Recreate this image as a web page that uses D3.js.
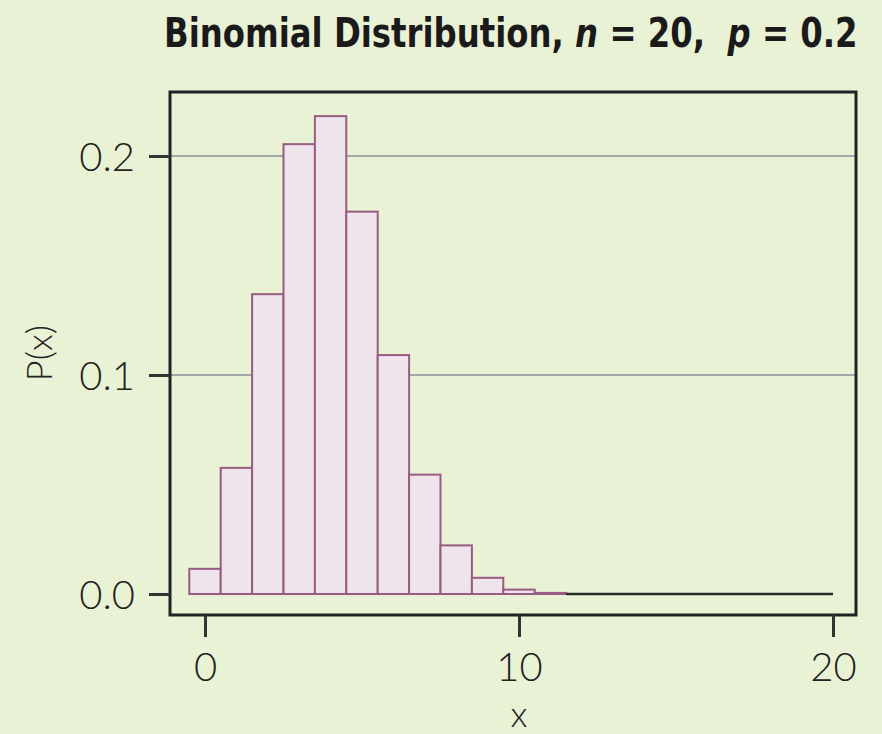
<!DOCTYPE html>
<html>
<head>
<meta charset="utf-8">
<script src="https://cdn.jsdelivr.net/npm/d3@7"></script>
<style>
  html, body { margin: 0; padding: 0; background: #eaf2d6; }
  svg { display: block; }
  text { white-space: pre; }
</style>
</head>
<body>
<div id="root"></div>
<script>
// binomial n = 20, p = 0.2
var ks = [0, 1, 2, 3, 4, 5, 6, 7, 8, 9, 10, 11]
var probs = [0.0115, 0.0576, 0.1369, 0.2054, 0.2182, 0.1746, 0.1091, 0.0545, 0.0222, 0.0074, 0.0020, 0.0005]
var xTicks = [0, 10, 20]
var yTicks = [0, 0.1, 0.2]
var gridTicks = [0.1, 0.2]
var xMax = 20

window.onload = function () {
    var W = 882, H = 734
    var frame = { left: 170, right: 856, top: 92, bottom: 615 }

    var svg = d3.select('#root').append('svg').attr('width', W).attr('height', H)

    var x = d3.scaleLinear().domain([0, 20]).range([205, 833])
    var y = d3.scaleLinear().domain([0, 0.2]).range([594, 156])

    // grid
    svg.append('g').selectAll('line').data(gridTicks).enter().append('line')
        .attr('x1', frame.left).attr('x2', frame.right)
        .attr('y1', function (d) { return y(d) }).attr('y2', function (d) { return y(d) })
        .attr('stroke', '#a3a7a6').attr('stroke-width', 2.2)

    // bars
    svg.append('g').selectAll('rect').data(ks).enter().append('rect')
        .attr('x', function (d) { return x(d - 0.5) })
        .attr('width', function (d) { return x(d + 0.5) - x(d - 0.5) })
        .attr('y', function (d, i) { return y(probs[i]) })
        .attr('height', function (d, i) { return y(0) - y(probs[i]) })
        .attr('fill', '#efe4ec')
        .attr('stroke', '#985b82')
        .attr('stroke-width', 2)

    // remaining ~0 bars collapse to a line
    svg.append('line')
        .attr('x1', x(ks[ks.length - 1] + 0.5)).attr('x2', x(xMax))
        .attr('y1', y(0)).attr('y2', y(0))
        .attr('stroke', '#2a2a2a').attr('stroke-width', 2.5)

    // frame
    svg.append('rect')
        .attr('x', frame.left).attr('y', frame.top)
        .attr('width', frame.right - frame.left).attr('height', frame.bottom - frame.top)
        .attr('fill', 'none').attr('stroke', '#222').attr('stroke-width', 3)

    var font = "Lato, 'Noto Sans', sans-serif"

    var yAxis = svg.append('g').attr('transform', 'translate(' + frame.left + ',0)')
        .call(d3.axisLeft(y).tickValues(yTicks).tickFormat(d3.format('.1f')).tickSize(21).tickPadding(14))
    var xAxis = svg.append('g').attr('transform', 'translate(0,' + frame.bottom + ')')
        .call(d3.axisBottom(x).tickValues(xTicks).tickFormat(d3.format('d')).tickSize(22).tickPadding(8))

    ;[yAxis, xAxis].forEach(function (a) {
        a.select('.domain').remove()
        a.selectAll('.tick line').attr('stroke', '#333').attr('stroke-width', 3)
        a.selectAll('.tick text').attr('fill', '#222')
            .style('font-family', font).style('font-weight', 300).style('font-size', '40px')
    })
    yAxis.selectAll('.tick text').attr('dy', '0.36em')
    xAxis.selectAll('.tick text').attr('dy', '0.9em')

    // axis labels
    svg.append('text')
        .attr('transform', 'translate(52,353) rotate(-90)')
        .attr('text-anchor', 'middle')
        .style('font-family', font).style('font-weight', 300).style('font-size', '36px')
        .attr('fill', '#222')
        .text('P(x)')

    svg.append('text')
        .attr('x', x(10)).attr('y', 727)
        .attr('text-anchor', 'middle')
        .style('font-family', font).style('font-weight', 300).style('font-size', '36px')
        .attr('fill', '#222')
        .text('x')

    // title, squeezed horizontally to the reference width
    var title = svg.append('text')
        .style('font-family', "'Liberation Sans Narrow', 'DejaVu Sans Condensed', sans-serif")
        .style('font-weight', 700).style('font-size', '40px')
        .attr('fill', '#1a1a1a')
    title.append('tspan').text('Binomial Distribution, ')
    title.append('tspan').style('font-style', 'italic').text('n')
    title.append('tspan').text(' = 20,  ')
    title.append('tspan').style('font-style', 'italic').text('p')
    title.append('tspan').text(' = 0.2')
    var tw = title.node().getComputedTextLength()
    title.attr('transform', 'translate(164,47) scale(' + (694 / tw) + ',1)')
}
</script>
</body>
</html>
